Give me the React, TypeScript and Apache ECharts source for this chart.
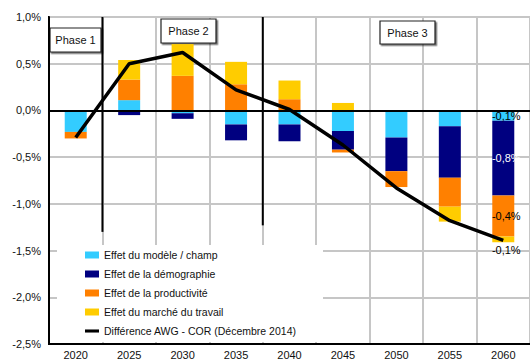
import React, { useEffect, useRef } from "react";
import * as echarts from "echarts";

const categories = ["2020", "2025", "2030", "2035", "2040", "2045", "2050", "2055", "2060"];
const modelEffect = [-0.23, 0.11, -0.03, -0.15, -0.15, -0.22, -0.29, -0.17, -0.11];
const demoEffect = [0, -0.05, -0.06, -0.17, -0.18, -0.2, -0.36, -0.55, -0.8];
const prodEffect = [-0.07, 0.22, 0.37, 0.28, 0.12, -0.03, -0.17, -0.31, -0.44];
const labourEffect = [0, 0.21, 0.34, 0.24, 0.2, 0.08, 0, -0.16, -0.06];
const diffAwgCor = [-0.29, 0.5, 0.62, 0.22, 0.01, -0.37, -0.83, -1.18, -1.39];

const seriesNames = [
  "Effet du modèle / champ",
  "Effet de la démographie",
  "Effet de la productivité",
  "Effet du marché du travail",
  "Différence AWG - COR (Décembre 2014)",
];
const colors = ["#33CCFF", "#000080", "#FF8000", "#FFCC00", "#000000"];
const labelColors = ["#000", "#fff", "#000", "#000"];
const labelPositions = ["inside", "inside", "inside", "bottom"];

// phase dividers: between category pairs, ending at value
const phaseDividers = [
  { left: "2020", right: "2025", end: -1.3 },
  { left: "2035", right: "2040", end: -1.23 },
];
const phaseBoxes = [
  { text: "Phase 1", x: 50, y: 28, w: 51, h: 24 },
  { text: "Phase 2", x: 161, y: 19, w: 55, h: 24 },
  { text: "Phase 3", x: 380, y: 21, w: 55, h: 23 },
];

const FONT = "'Liberation Sans', Arial, sans-serif";
const fmt = (v: number) => v.toFixed(1).replace(".", ",") + "%";

export default function App() {
  const ref = useRef<HTMLDivElement>(null);
  useEffect(() => {
    if (!ref.current) return;
    const chart = echarts.init(ref.current, undefined, { renderer: "svg" });
    const barData = [modelEffect, demoEffect, prodEffect, labourEffect];
    const last = categories.length - 1;
    const barSeries = barData.map((arr, si) => ({
      name: seriesNames[si],
      type: "bar",
      stack: "effects",
      barWidth: 22,
      itemStyle: { color: colors[si] },
      data: arr.map((v, i) =>
        i === last
          ? {
              value: v,
              label: {
                show: true,
                position: labelPositions[si],
                distance: 2,
                offset: [3, 0],
                formatter: (p: any) => fmt(p.value),
                color: labelColors[si],
                fontSize: 11,
                fontFamily: FONT,
              },
            }
          : v
      ),
    }));
    chart.setOption({
      animation: false,
      textStyle: { fontFamily: FONT },
      grid: {
        left: 49,
        top: 17,
        width: 489.6,
        height: 327,
        show: true,
        borderColor: "#000",
        borderWidth: 2,
      },
      legend: {
        orient: "vertical",
        left: 85,
        top: 249,
        padding: 0,
        itemWidth: 14,
        itemHeight: 7,
        itemGap: 7,
        textStyle: { fontSize: 10.5, color: "#111", fontFamily: FONT, lineHeight: 12 },
        data: seriesNames.map((n, i) =>
          i < 4
            ? { name: n, icon: "rect" }
            : { name: n, icon: "path://M0,0H50V11H0Z", itemStyle: { color: "#000" } }
        ),
      },
      xAxis: {
        type: "category",
        data: categories,
        position: "bottom",
        axisLine: { onZero: false, lineStyle: { color: "#000", width: 2 } },
        axisTick: { show: false },
        axisLabel: { fontSize: 11, color: "#111", margin: 5, fontFamily: FONT },
        splitLine: { show: true, interval: 0, lineStyle: { color: "#c6c6c6", width: 2 } },
      },
      yAxis: {
        type: "value",
        min: -2.5,
        max: 1.0,
        interval: 0.5,
        axisLine: { show: true, lineStyle: { color: "#000", width: 2 } },
        axisTick: { show: false },
        axisLabel: { fontSize: 11, color: "#111", margin: 8, formatter: (v: number) => fmt(v), fontFamily: FONT },
        splitLine: { show: true, lineStyle: { color: "#c6c6c6", width: 2 } },
      },
      series: [
        ...barSeries,
        {
          name: seriesNames[4],
          type: "line",
          data: diffAwgCor,
          symbol: "none",
          showSymbol: false,
          z: 5,
          itemStyle: { color: "#000" },
          lineStyle: { color: "#000", width: 3.5 },
          markLine: {
            silent: true,
            symbol: "none",
            label: { show: false },
            lineStyle: { color: "#000", width: 2, type: "solid" },
            data: [{ yAxis: 0 }],
          },
        },
      ],
    });

    const yTop = chart.convertToPixel({ yAxisIndex: 0 }, 1.0) as number;
    const lines = phaseDividers.map((d) => {
      const x0 = chart.convertToPixel({ xAxisIndex: 0 }, d.left) as number;
      const x1 = chart.convertToPixel({ xAxisIndex: 0 }, d.right) as number;
      const xb = (x0 + x1) / 2;
      const yb = chart.convertToPixel({ yAxisIndex: 0 }, d.end) as number;
      return {
        type: "line",
        z: 6,
        shape: { x1: xb, y1: yTop, x2: xb, y2: yb },
        style: { stroke: "#000", lineWidth: 2 },
      };
    });
    const boxes = phaseBoxes.map((b) => ({
      type: "group",
      z: 7,
      children: [
        {
          type: "rect",
          shape: { x: b.x, y: b.y, width: b.w, height: b.h },
          style: {
            fill: "#fff",
            stroke: "#222",
            lineWidth: 1.2,
            shadowColor: "rgba(0,0,0,0.55)",
            shadowOffsetX: 1.5,
            shadowOffsetY: 1.5,
            shadowBlur: 0,
          },
        },
        {
          type: "text",
          x: b.x + b.w / 2,
          y: b.y + b.h / 2,
          style: {
            text: b.text,
            fill: "#111",
            font: `11px ${FONT}`,
            align: "center",
            verticalAlign: "middle",
          },
        },
      ],
    }));
    chart.setOption({
      graphic: [
        {
          type: "rect",
          z: 3,
          shape: { x: 57, y: 245, width: 266, height: 97 },
          style: { fill: "#fff" },
        },
        ...lines,
        ...boxes,
      ],
    });
    return () => chart.dispose();
  }, []);
  return (
    <div
      ref={ref}
      style={{ position: "fixed", left: 0, top: 0, width: 530, height: 360, background: "#fff" }}
    />
  );
}
